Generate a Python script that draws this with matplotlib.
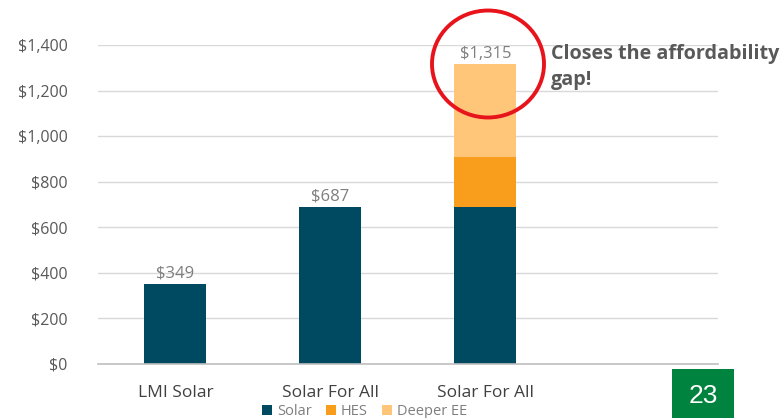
import matplotlib.pyplot as plt
from matplotlib.patches import Ellipse, Rectangle
import numpy as np

plt.rcParams["font.family"] = ["Open Sans", "DejaVu Sans"]

categories = ["LMI Solar", "Solar For All", "Solar For All", ""]
solar = [349, 687, 687, 0]
hes = [0, 0, 221, 0]
deeper_ee = [0, 0, 407, 0]
totals = ["$349", "$687", "$1,315", None]
yticks = [0, 200, 400, 600, 800, 1000, 1200, 1400]

c_solar = "#004A61"
c_hes = "#F99D1C"
c_ee = "#FFC67A"
grey = "#7F7F7F"

fig = plt.figure(figsize=(7.84, 4.18), dpi=100)
ax = fig.add_axes([0.125, 0.1292, 0.7908, 0.7631])

x = np.arange(len(categories))
w = 0.4
ax.bar(x, solar, w, color=c_solar, label="Solar")
ax.bar(x, hes, w, bottom=solar, color=c_hes, label="HES")
bottom2 = np.array(solar) + np.array(hes)
ax.bar(x, deeper_ee, w, bottom=bottom2, color=c_ee, label="Deeper EE")

top = bottom2 + np.array(deeper_ee)
for xi, t, lab in zip(x, top, totals):
    if lab:
        ax.text(xi, t + 12, lab, ha="center", va="bottom", fontsize=12, color=grey)

ax.set_xlim(-0.5, 3.5)
ax.set_ylim(0, 1400)
ax.set_yticks(yticks)
ax.set_yticklabels([f"${v:,}" for v in yticks], fontsize=11.5, color="#595959")
ax.set_xticks(x)
ax.set_xticklabels(categories, fontsize=12.5, color="#404040")
ax.tick_params(length=0, pad=22, axis="y")
ax.tick_params(length=0, pad=15, axis="x")
ax.grid(axis="y", color="#D9D9D9", linewidth=1)
ax.set_axisbelow(True)
for s in ["top", "right", "left"]:
    ax.spines[s].set_visible(False)
ax.spines["bottom"].set_color("#BFBFBF")
ax.spines["bottom"].set_linewidth(1.2)

ax.legend(loc="upper center", bbox_to_anchor=(0.43, -0.085), ncol=3, frameon=False,
          fontsize=10.5, handlelength=0.7, handleheight=0.7, handletextpad=0.3,
          columnspacing=1.0, labelcolor=grey)

fig.text(551 / 784, 1 - 54 / 418, "Closes the affordability", fontsize=14.2,
         fontweight="bold", color="#595959", va="center", ha="left")
fig.text(551 / 784, 1 - 80 / 418, "gap!", fontsize=14.2,
         fontweight="bold", color="#595959", va="center", ha="left")

fig.add_artist(Ellipse((488 / 784, 1 - 64 / 418), 112 / 784, 107 / 418,
                       transform=fig.transFigure, fill=False, edgecolor="#E8141B", linewidth=2.8))

fig.add_artist(Rectangle((672 / 784, 0), 62 / 784, 49 / 418, transform=fig.transFigure,
                         facecolor="#00833E", edgecolor="none"))
fig.text(703 / 784, 1 - 396 / 418, "23", fontsize=19, color="white", ha="center", va="center",
         family=["Liberation Sans", "DejaVu Sans"])

fig.savefig("out.png", dpi=100)
